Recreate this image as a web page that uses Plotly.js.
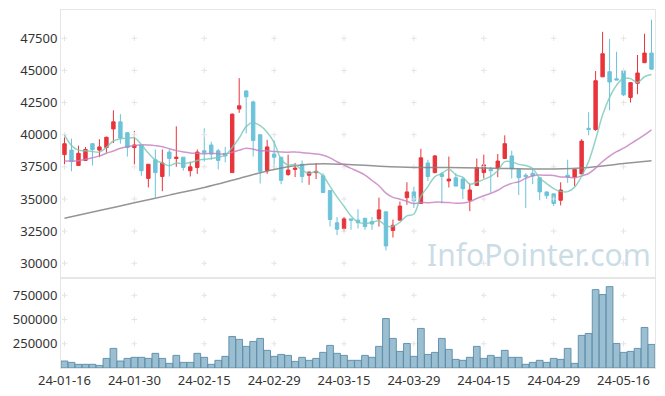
<!DOCTYPE html>
<html>
<head>
<meta charset="utf-8">
<script src="https://cdn.plot.ly/plotly-3.0.1.min.js"></script>
<style>html,body{margin:0;padding:0;background:#fff;}#chart{width:665px;height:396px;}</style>
</head>
<body>
<div id="chart"></div>
<script>
const dates = [
'24-01-16','24-01-17','24-01-18','24-01-19','24-01-22','24-01-23','24-01-24','24-01-25','24-01-26','24-01-29',
'24-01-30','24-01-31','24-02-01','24-02-02','24-02-05','24-02-06','24-02-07','24-02-08','24-02-13','24-02-14',
'24-02-15','24-02-16','24-02-19','24-02-20','24-02-21','24-02-22','24-02-23','24-02-26','24-02-27','24-02-28',
'24-02-29','24-03-04','24-03-05','24-03-06','24-03-07','24-03-08','24-03-11','24-03-12','24-03-13','24-03-14',
'24-03-15','24-03-18','24-03-19','24-03-20','24-03-21','24-03-22','24-03-25','24-03-26','24-03-27','24-03-28',
'24-03-29','24-04-01','24-04-02','24-04-03','24-04-04','24-04-05','24-04-08','24-04-09','24-04-11','24-04-12',
'24-04-15','24-04-16','24-04-17','24-04-18','24-04-19','24-04-22','24-04-23','24-04-24','24-04-25','24-04-26',
'24-04-29','24-04-30','24-05-02','24-05-03','24-05-07','24-05-08','24-05-09','24-05-10','24-05-13','24-05-14',
'24-05-16','24-05-17','24-05-20','24-05-21','24-05-22'];

const open = [38450,38800,37600,38000,39300,38800,39000,40450,41000,40150,
39000,39200,36600,38050,36750,38650,38150,38250,37200,37450,
38750,39200,38750,38550,37050,42000,43400,42550,40000,37200,
38500,38250,36900,37300,37700,36850,37050,36800,35650,33150,
32700,33450,33350,33500,33250,33450,34000,32550,33350,35100,
35550,34650,37800,37050,36950,36400,36650,36550,34900,36050,
37050,37300,37400,38150,38350,37300,36850,37000,36650,35550,
35400,34900,36850,36700,36950,40500,40400,44500,44900,44350,
45000,42900,44000,45600,46350];

const high = [40100,39700,39150,39050,39350,39650,39850,41900,41600,40200,
40300,39200,37700,38850,38850,38850,40650,38250,37900,38850,
40500,39450,38900,39050,41650,44400,43450,42650,40000,39600,
39550,38250,38450,37800,38000,37100,37800,37000,35650,33600,
33600,33450,34200,33500,33600,35100,34000,33400,34800,36300,
35950,38900,38050,38400,37100,38300,37000,36650,36200,38150,
38450,37500,38500,39950,38750,37300,37000,37400,36650,35550,
35400,36300,38050,37300,39650,41750,44950,48000,47450,46450,
45050,44050,46200,47850,48950];

const low = [37600,37150,37600,37950,37600,38250,38600,39350,39300,38300,
37650,36800,35900,35100,35600,36750,37500,37200,36750,36950,
37900,38050,37300,37850,37050,41700,40100,38300,36200,36950,
37250,36150,36800,36700,36250,36100,36550,35500,32850,32200,
32450,32600,32700,32600,32600,32850,31000,32000,33350,34550,
34300,34650,36400,37000,34650,35900,36000,35000,34050,36050,
36600,35450,36700,38150,36600,35300,34300,36150,34900,35000,
34450,34500,36250,36000,36950,39950,40300,44500,41900,44250,
43000,42500,43150,45600,45050];

const close = [39300,37900,38550,38850,38850,39050,39800,41000,39750,39000,
39200,37200,37700,37050,37800,38150,38250,37450,37500,38650,
38600,38500,38000,38350,41600,42250,42950,39550,37150,39050,
38250,36450,37250,37400,36750,37100,37150,35500,33400,32650,
33450,33350,33150,32850,33050,34150,31350,32950,34450,35550,
34850,38200,36750,38350,36750,36550,36000,35800,35700,37450,
37650,37200,37950,39300,37350,36650,36750,36800,35550,35250,
34650,35700,36700,37300,39500,40400,44200,46300,44100,44250,
43100,44050,44800,46350,45100];

const ma5 = [39980,39150,38800,38750,38690,38650,39020,39510,39690,39720,
39750,39230,38570,38030,37790,37580,37790,37740,37830,38000,
38090,38140,38250,38420,39010,39740,40630,40940,40700,40190,
39390,38090,37630,37680,37220,36990,37130,36780,35980,35160,
34430,33670,33200,33090,33170,33310,32910,32870,33190,33690,
33830,35200,35960,36740,36980,37320,36880,36690,36160,36300,
36520,36760,37190,37910,37890,37690,37600,37370,36620,36200,
35800,35590,35570,35920,36770,37920,39620,41540,42900,43850,
44390,44360,44060,44510,44680];

const ma20 = [37960,37960,37980,38090,38210,38350,38560,38730,38940,39070,
39150,39220,39200,39150,39070,38910,38760,38660,38580,38550,
38515,38545,38518,38493,38630,38790,38948,38875,38745,38748,
38700,38663,38640,38658,38605,38553,38498,38400,38195,37895,
37638,37380,37138,36863,36435,36030,35450,35120,34985,34810,
34640,34728,34703,34750,34750,34723,34665,34680,34795,35035,
35245,35438,35678,36000,36215,36340,36610,36803,36858,36843,
36833,36708,36705,36653,36790,36983,37393,37918,38338,38678,
38950,39293,39635,39988,40375];

const longMaDates = ['24-01-16','24-01-23','24-01-30','24-02-06','24-02-15','24-02-22','24-02-29','24-03-08','24-03-15',
'24-03-22','24-03-29','24-04-05','24-04-15','24-04-22','24-04-29','24-05-08','24-05-16','24-05-22'];
const longMa = [33500,34100,34700,35300,35900,36600,37300,37700,37700,37550,37450,37450,37400,37350,37330,37450,37750,37980];

const volume = [72000,58000,38000,38000,38000,27000,99000,202000,72000,99000,
110000,110000,99000,151000,99000,48000,130000,58000,58000,151000,
110000,38000,79000,120000,325000,295000,223000,274000,305000,182000,
120000,140000,130000,68000,110000,79000,99000,161000,233000,151000,
130000,79000,79000,130000,110000,223000,510000,305000,171000,253000,
120000,408000,140000,161000,305000,192000,89000,79000,110000,223000,
99000,130000,110000,182000,110000,110000,38000,58000,79000,58000,
99000,89000,202000,48000,336000,356000,808000,757000,839000,253000,
161000,171000,202000,418000,243000];

const xTickDates = ['24-01-16','24-01-30','24-02-15','24-02-29','24-03-15','24-03-29','24-04-15','24-04-29','24-05-16'];
const priceTicks = [30000,32500,35000,37500,40000,42500,45000,47500];
const volTicks = [250000,500000,750000];

const UP = '#e8343b', DOWN = '#6cc3da';
const gridX1=[],gridY1=[],gridX2=[],gridY2=[];
xTickDates.forEach(d=>{
  priceTicks.forEach(v=>{gridX1.push(d);gridY1.push(v);});
  volTicks.forEach(v=>{gridX2.push(d);gridY2.push(v);});
});
const crossMarker = {symbol:'cross-thin', size:4, line:{color:'#e4e4e4', width:1}};

const traces = [
  {type:'scatter', mode:'markers', x:gridX1, y:gridY1, xaxis:'x', yaxis:'y', marker:crossMarker, hoverinfo:'skip', showlegend:false},
  {type:'scatter', mode:'markers', x:gridX2, y:gridY2, xaxis:'x2', yaxis:'y2', marker:crossMarker, hoverinfo:'skip', showlegend:false},
  {type:'candlestick', x:dates, open:open, high:high, low:low, close:close, xaxis:'x', yaxis:'y',
   increasing:{line:{color:UP, width:1}, fillcolor:UP},
   decreasing:{line:{color:DOWN, width:1}, fillcolor:DOWN},
   whiskerwidth:0, showlegend:false, hoverinfo:'skip'},
  {type:'scatter', mode:'lines', x:longMaDates, y:longMa, xaxis:'x', yaxis:'y',
   line:{color:'rgba(130,130,130,0.85)', width:1.5, shape:'spline', smoothing:1}, hoverinfo:'skip', showlegend:false},
  {type:'scatter', mode:'lines', x:dates, y:ma20, xaxis:'x', yaxis:'y',
   line:{color:'rgba(195,125,190,0.8)', width:1.5, shape:'spline', smoothing:1}, hoverinfo:'skip', showlegend:false},
  {type:'scatter', mode:'lines', x:dates, y:ma5, xaxis:'x', yaxis:'y',
   line:{color:'rgba(120,200,185,0.8)', width:1.5, shape:'spline', smoothing:1}, hoverinfo:'skip', showlegend:false},
  {type:'bar', x:dates, y:volume, xaxis:'x2', yaxis:'y2',
   marker:{color:'rgba(130,175,198,0.8)', line:{color:'rgba(90,140,170,0.9)', width:1}},
   hoverinfo:'skip', showlegend:false}
];

const priceDomainBottom = 0.2506;
const tickFont = {family:'Noto Sans, sans-serif', size:13, color:'#333'};
const layout = {
  width:665, height:396,
  margin:{l:61, r:10, t:10, b:28},
  paper_bgcolor:'#fff', plot_bgcolor:'#fff',
  showlegend:false, hovermode:false, bargap:0.04,
  xaxis:{type:'category', categoryorder:'array', categoryarray:dates, range:[-0.5,84.5], anchor:'y',
    showticklabels:false, showgrid:false, zeroline:false, showline:true, mirror:true, linecolor:'#e6e6e6', linewidth:1,
    rangeslider:{visible:false}, fixedrange:true},
  xaxis2:{type:'category', categoryorder:'array', categoryarray:dates, range:[-0.5,84.5], anchor:'y2', matches:'x',
    tickmode:'array', tickvals:xTickDates, ticktext:xTickDates, ticks:'', tickfont:tickFont,
    showgrid:false, zeroline:false, showline:true, mirror:true, linecolor:'#e6e6e6', linewidth:1,
    rangeslider:{visible:false}, fixedrange:true},
  yaxis:{domain:[priceDomainBottom,1], range:[28830,49700], anchor:'x', tickmode:'array', tickvals:priceTicks,
    ticktext:priceTicks.map(String), ticks:'', tickfont:tickFont, showgrid:false, zeroline:false,
    showline:true, mirror:true, linecolor:'#e6e6e6', linewidth:1, fixedrange:true},
  yaxis2:{domain:[0,priceDomainBottom], range:[0,925000], anchor:'x2', tickmode:'array', tickvals:volTicks,
    ticktext:volTicks.map(String), ticks:'', tickfont:tickFont, showgrid:false, zeroline:false,
    showline:true, mirror:true, linecolor:'#e6e6e6', linewidth:1, fixedrange:true},
  annotations:[{text:'InfoPointer.com', xref:'paper', yref:'paper', x:0.805, y:0.318, xanchor:'center', yanchor:'middle',
    showarrow:false, font:{family:'Noto Sans, sans-serif', size:30, color:'rgba(150,186,206,0.5)'}}]
};
Plotly.newPlot('chart', traces, layout, {displayModeBar:false, staticPlot:true});
</script>
</body>
</html>
